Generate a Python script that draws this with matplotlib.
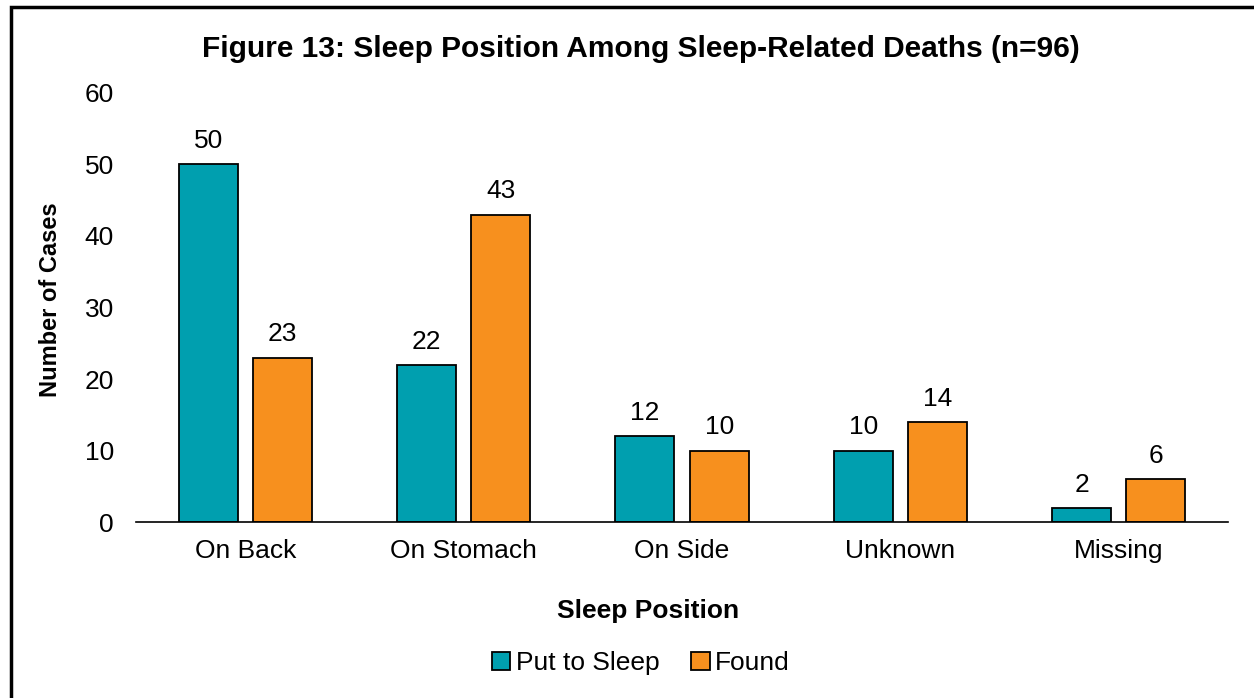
import matplotlib
matplotlib.use("Agg")
import matplotlib.pyplot as plt
import matplotlib.patches as mpatches
import numpy as np

plt.rcParams['font.family'] = ['Liberation Sans', 'DejaVu Sans']

categories = ["On Back", "On Stomach", "On Side", "Unknown", "Missing"]
put_to_sleep = [50, 22, 12, 10, 2]
found = [23, 43, 10, 14, 6]
yticks = [0, 10, 20, 30, 40, 50, 60]

teal = "#009FAF"
orange = "#F7901E"

fig = plt.figure(figsize=(12.54, 6.98), dpi=100)
ax = fig.add_axes([0.1085, 0.2521, 0.8708, 0.6147])

x = np.arange(len(categories))
w = 0.27
off = 0.17
b1 = ax.bar(x - off, put_to_sleep, w, color=teal, edgecolor="black", linewidth=1.3, label="Put to Sleep")
b2 = ax.bar(x + off, found, w, color=orange, edgecolor="black", linewidth=1.3, label="Found")

# value labels above each bar
for bars in (b1, b2):
    for r in bars:
        ax.annotate(str(int(r.get_height())), (r.get_x() + r.get_width() / 2, r.get_height()),
                    xytext=(0, 8), textcoords="offset points", ha="center", va="bottom", fontsize=19)

ax.set_xlim(-0.5, 4.5)
ax.set_ylim(0, 60)
ax.set_yticks(yticks)
ax.set_xticks(x)
ax.set_xticklabels(categories)
ax.tick_params(axis="both", length=0, labelsize=19)
ax.tick_params(axis="x", pad=12)
ax.tick_params(axis="y", pad=16)
for s in ["top", "right", "left"]:
    ax.spines[s].set_visible(False)
ax.spines["bottom"].set_linewidth(1.2)

ax.set_xlabel("Sleep Position", fontsize=19, fontweight="bold")
ax.xaxis.set_label_coords(0.469, -0.18)
ax.set_ylabel("Number of Cases", fontsize=17, fontweight="bold")
ax.yaxis.set_label_coords(-0.068, 0.5175)
fig.text(0.511, 0.93, "Figure 13: Sleep Position Among Sleep-Related Deaths (n=96)",
         ha="center", va="center", fontsize=21.5, fontweight="bold")

fig.legend(handles=[b1, b2], loc="center", bbox_to_anchor=(0.511, 0.05), ncol=2,
           frameon=False, fontsize=19, handlelength=0.7, handleheight=0.7,
           handletextpad=0.2, columnspacing=1.2)

# outer frame (cropped on right and bottom like the source)
border = mpatches.Rectangle((11 / 1254, -0.1), 2, 1.1 - 7 / 698, transform=fig.transFigure,
                            fill=False, edgecolor="black", linewidth=2.5, clip_on=False)
fig.patches.append(border)

fig.savefig("out.png", dpi=100)
